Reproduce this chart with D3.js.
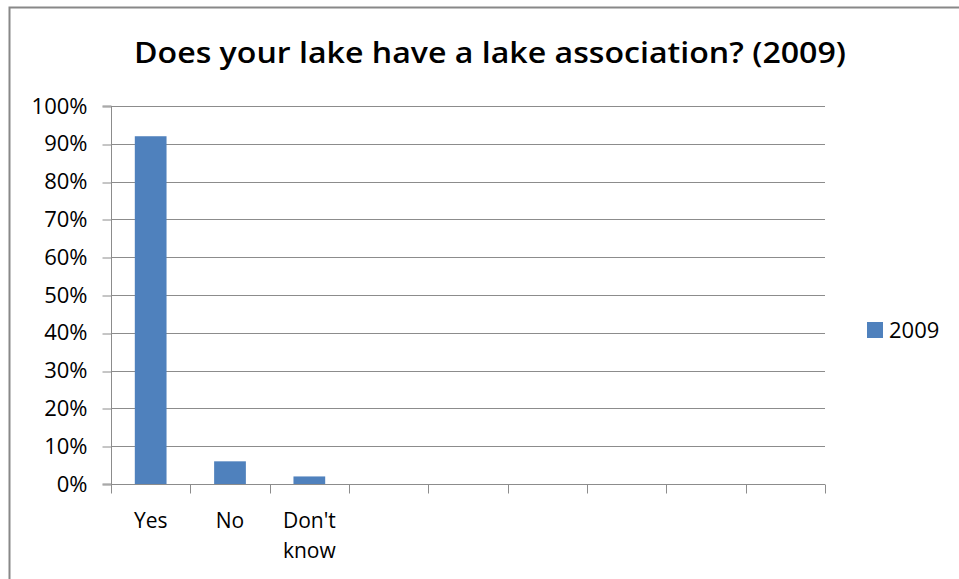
<!DOCTYPE html>
<html>
<head>
<meta charset="utf-8">
<script src="https://cdn.jsdelivr.net/npm/d3@7"></script>
<style>
  html, body { margin: 0; padding: 0; background: #fff; }
  svg { display: block; font-family: "Open Sans", "Liberation Sans", sans-serif; }
</style>
</head>
<body>
<svg id="chart" width="959" height="579"></svg>
<script>
// Survey answers and their share of respondents
const categories = ["Yes", "No", "Don't know", "c4", "c5", "c6", "c7", "c8", "c9"];
const categoryLabels = [["Yes"], ["No"], ["Don't", "know"], [], [], [], [], [], []];
const values2009 = [92, 6, 2, null, null, null, null, null, null];
const yTicks = [0, 10, 20, 30, 40, 50, 60, 70, 80, 90, 100];
const seriesName = "2009";
const title = "Does your lake have a lake association? (2009)";

const svg = d3.select("#chart");
const barColor = "#4F81BD";
const gridColor = "#8c8c8c";

// Outer chart frame
svg.append("rect")
  .attr("x", 9.5).attr("y", 7.5)
  .attr("width", 980).attr("height", 600)
  .attr("fill", "none")
  .attr("stroke", "#888")
  .attr("stroke-width", 2);

const plot = { left: 111, right: 825, top: 106, bottom: 484 };

const x = d3.scaleBand()
  .domain(categories)
  .range([plot.left, plot.right])
  .paddingInner(0.6)
  .paddingOuter(0.3);

const xSlot = d3.scaleBand()
  .domain(categories)
  .range([plot.left, plot.right]);

const y = d3.scaleLinear()
  .domain([0, 100])
  .range([plot.bottom, plot.top]);

// Title
svg.append("text")
  .attr("x", 490).attr("y", 63)
  .attr("text-anchor", "middle")
  .attr("font-size", 28)
  .attr("font-weight", 600)
  .attr("fill", "#000")
  .attr("textLength", 712)
  .attr("lengthAdjust", "spacingAndGlyphs")
  .text(title);

// Horizontal gridlines
svg.append("g")
  .selectAll("line")
  .data(yTicks.filter(d => d > 0))
  .join("line")
  .attr("x1", plot.left).attr("x2", plot.right)
  .attr("y1", d => Math.round(y(d)) + 0.5)
  .attr("y2", d => Math.round(y(d)) + 0.5)
  .attr("stroke", gridColor)
  .attr("stroke-width", 1);

// Bars
svg.append("g")
  .selectAll("rect")
  .data(categories.map((c, i) => ({ c, v: values2009[i] })).filter(d => d.v != null))
  .join("rect")
  .attr("x", d => x(d.c))
  .attr("y", d => y(d.v))
  .attr("width", x.bandwidth())
  .attr("height", d => y(0) - y(d.v))
  .attr("fill", barColor);

// Y axis
const yAxis = d3.axisLeft(y)
  .tickValues(yTicks)
  .tickSize(9)
  .tickPadding(15)
  .tickFormat(d => d + "%");

svg.append("g")
  .attr("transform", `translate(${plot.left + 0.5},0)`)
  .call(yAxis)
  .call(g => g.select(".domain").attr("stroke", gridColor).attr("d", `M-9,${plot.top}H0V${plot.bottom}H-9`))
  .call(g => g.selectAll(".tick line").attr("stroke", gridColor).attr("transform", d => `translate(0,${Math.round(y(d)) + 0.5 - y(d)})`))
  .call(g => g.selectAll(".tick text").attr("font-size", 22).attr("fill", "#000").attr("font-family", "'Open Sans', sans-serif"));

// X axis with ticks at slot boundaries
const xAxisG = svg.append("g").attr("transform", `translate(0,${plot.bottom + 0.5})`);
xAxisG.append("line")
  .attr("x1", plot.left).attr("x2", plot.right)
  .attr("stroke", gridColor);
const boundaries = categories.map(c => xSlot(c)).concat([plot.right]);
xAxisG.selectAll("line.tk")
  .data(boundaries)
  .join("line")
  .attr("class", "tk")
  .attr("x1", d => Math.round(d) + 0.5).attr("x2", d => Math.round(d) + 0.5)
  .attr("y1", 0).attr("y2", 9)
  .attr("stroke", gridColor);

// Category labels
const labelG = svg.append("g");
categories.forEach((c, i) => {
  const cx = xSlot(c) + xSlot.bandwidth() / 2;
  const t = labelG.append("text")
    .attr("x", cx).attr("y", 528)
    .attr("text-anchor", "middle")
    .attr("font-size", 21)
    .attr("fill", "#000");
  categoryLabels[i].forEach((line, j) => {
    t.append("tspan").attr("x", cx).attr("dy", j === 0 ? 0 : 30).text(line);
  });
});

// Legend
svg.append("rect")
  .attr("x", 867).attr("y", 322)
  .attr("width", 16).attr("height", 16)
  .attr("fill", barColor);
svg.append("text")
  .attr("x", 889).attr("y", 338)
  .attr("font-size", 22)
  .attr("fill", "#000")
  .text(seriesName);
</script>
</body>
</html>
